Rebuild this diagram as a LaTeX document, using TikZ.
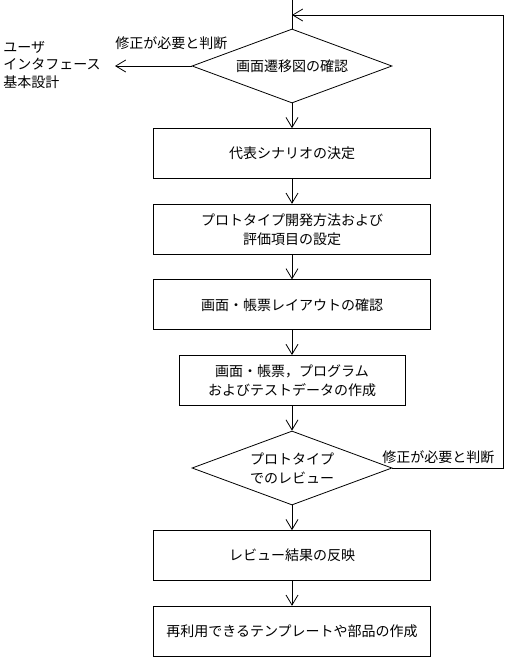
\documentclass[tikz,border=0pt]{standalone}
\usepackage{fontspec}
\usepackage{tikz}
\usetikzlibrary{positioning,arrows.meta,calc,shapes.geometric}
\newfontfamily\jpfont{Noto Sans CJK JP}

\begin{document}
\begin{tikzpicture}[x=0.75pt,y=-0.75pt,>={Straight Barb[length=7.5pt,width=9pt]},
    line width=0.6pt,node distance=18.6pt,
    font=\jpfont\fontsize{10.5pt}{14.25pt}\selectfont,
    box/.style={draw,align=center,inner sep=2pt,minimum width=207.75pt,minimum height=37.5pt},
    dia/.style={draw,diamond,aspect=2.7,align=center,inner sep=-4pt,minimum width=150pt,minimum height=55.5pt},
    lbl/.style={inner sep=0pt,align=left,font=\jpfont\fontsize{10.5pt}{13pt}\selectfont}]
    \useasboundingbox (0,0) rectangle (509,661);
    \coordinate (top) at (292,0);
    \node[dia] (trans) at (292,66) {画面遷移図の確認};
    \node[box,below=of trans] (scen) {代表シナリオの決定};
    \node[box,below=of scen] (meth) {プロトタイプ開発方法および\\評価項目の設定};
    \node[box,below=of meth] (lay) {画面・帳票レイアウトの確認};
    \node[box,minimum width=169.5pt,below=of lay] (make) {画面・帳票，プログラム\\およびテストデータの作成};
    \node[dia,below=of make] (rev) {プロトタイプ\\でのレビュー};
    \node[box,below=of rev] (refl) {レビュー結果の反映};
    \node[box,below=of refl] (tmpl) {再利用できるテンプレートや部品の作成};
    \node[lbl,anchor=west] (ui) at (3,65) {ユーザ\\インタフェース\\基本設計};
    \coordinate (back) at (115,66);
    \coordinate (loop) at (503,15);
    \node[lbl,anchor=west] (fixL) at (115,43) {修正が必要と判断};
    \node[lbl,anchor=west] (fixR) at (382,457) {修正が必要と判断};
    % main flow
    \draw (top)--(trans.north);
    \draw[->] (trans.west)--(back);
    \draw[->] (trans)--(scen); \draw[->] (scen)--(meth); \draw[->] (meth)--(lay);
    \draw[->] (lay)--(make); \draw[->] (make)--(rev);
    \draw[->] (rev)--(refl); \draw[->] (refl)--(tmpl);
    % feedback loop
    \draw[->] (rev.east) -| (loop) -- (loop -| top);
  \end{tikzpicture}
\end{document}
